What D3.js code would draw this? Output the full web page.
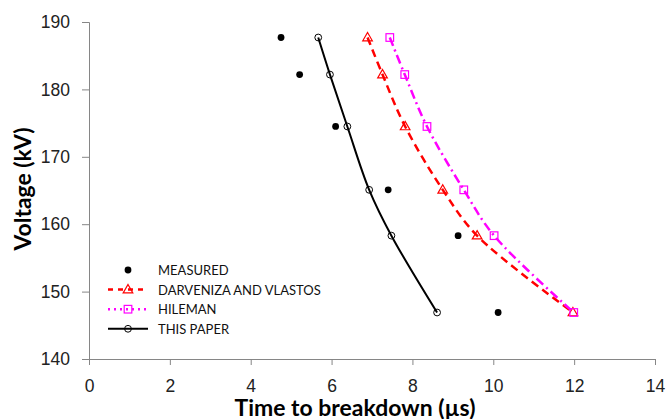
<!DOCTYPE html>
<html>
<head>
<meta charset="utf-8">
<script src="https://cdn.jsdelivr.net/npm/d3@7"></script>
<style>
body { margin: 0; background: #fff; }
svg { display: block; font-family: Lato, "Liberation Sans", sans-serif; }
</style>
</head>
<body>
<div id="chart"></div>
<script>
// values
const voltage = [187.7, 182.2, 174.5, 165.1, 158.3, 146.9];
const measured = [4.75, 5.21, 6.10, 7.40, 9.13, 10.12];
const darveniza = [6.89, 7.26, 7.82, 8.75, 9.60, 11.97];
const hileman = [7.44, 7.81, 8.36, 9.27, 10.02, 11.99];
const thisPaper = [5.67, 5.96, 6.39, 6.93, 7.48, 8.61];

const xTicks = [0, 2, 4, 6, 8, 10, 12, 14];
const yTicks = [140, 150, 160, 170, 180, 190];

const legendLabels = ["MEASURED", "DARVENIZA AND VLASTOS", "HILEMAN", "THIS PAPER"];

const W = 667, H = 419;
const margin = {top: 22, right: 12, bottom: 60, left: 89};
const width = W - margin.left - margin.right;
const height = H - margin.top - margin.bottom;

const svg = d3.select("#chart").append("svg")
	.attr("width", W).attr("height", H);

const g = svg.append("g")
	.attr("transform", "translate(" + margin.left + "," + margin.top + ")");

const x = d3.scaleLinear().domain([0, 14]).range([0, width]);
const y = d3.scaleLinear().domain([140, 190]).range([height, 0]);

// axes
const axisColor = "#868686";
const xAxis = g.append("g")
	.attr("transform", "translate(0," + height + ")")
	.call(d3.axisBottom(x).tickValues(xTicks).tickSize(6).tickPadding(15).tickFormat(d3.format("d")));
const yAxis = g.append("g")
	.call(d3.axisLeft(y).tickValues(yTicks).tickSize(7).tickPadding(12).tickFormat(d3.format("d")));

[xAxis, yAxis].forEach(a => {
	a.select(".domain").attr("stroke", axisColor);
	a.selectAll(".tick line").attr("stroke", axisColor);
	a.selectAll(".tick text").attr("fill", "#222").style("font-size", "17.5px");
});

// axis titles
svg.append("text")
	.attr("x", 355).attr("y", 416)
	.attr("text-anchor", "middle")
	.attr("textLength", 241).attr("lengthAdjust", "spacingAndGlyphs")
	.style("font-size", "22px").style("font-weight", "bold")
	.text("Time to breakdown (µs)");

svg.append("text")
	.attr("transform", "translate(31,189) rotate(-90)")
	.attr("text-anchor", "middle")
	.attr("textLength", 123).attr("lengthAdjust", "spacingAndGlyphs")
	.style("font-size", "22px").style("font-weight", "bold")
	.text("Voltage (kV)");

const series = [
	{key: "darveniza", xs: darveniza, color: "#ff0000", dash: "8,5", width: 2.5, marker: "triangle"},
	{key: "hileman", xs: hileman, color: "#ff00ff", dash: "9,4,2,4", width: 2.5, marker: "square"},
	{key: "thispaper", xs: thisPaper, color: "#000", dash: null, width: 2, marker: "circle"}
];

const line = d3.line()
	.x(d => x(d[0]))
	.y(d => y(d[1]))
	.curve(d3.curveCatmullRom.alpha(0.5));

function drawMarker(sel, type, color, cx, cy) {
	if (type === "triangle") {
		sel.append("path")
			.attr("d", d3.symbol(d3.symbolTriangle, 40)())
			.attr("transform", "translate(" + cx + "," + (cy + 0.5) + ")")
			.attr("fill", "none").attr("stroke", color).attr("stroke-width", 1.2);
	} else if (type === "square") {
		sel.append("rect")
			.attr("x", cx - 3.8).attr("y", cy - 3.8)
			.attr("width", 7.6).attr("height", 7.6)
			.attr("fill", "none").attr("stroke", color).attr("stroke-width", 1.2);
	} else if (type === "circle") {
		sel.append("circle")
			.attr("cx", cx).attr("cy", cy).attr("r", 3.4)
			.attr("fill", "none").attr("stroke", color).attr("stroke-width", 1);
	} else {
		sel.append("circle")
			.attr("cx", cx).attr("cy", cy).attr("r", 3.4)
			.attr("fill", color);
	}
}

series.forEach(s => {
	const pts = s.xs.map((v, i) => [v, voltage[i]]);
	g.append("path")
		.datum(pts)
		.attr("d", line)
		.attr("fill", "none")
		.attr("stroke", s.color)
		.attr("stroke-width", s.width)
		.attr("stroke-dasharray", s.dash);
	const mg = g.append("g").attr("class", s.key);
	pts.forEach(p => drawMarker(mg, s.marker, s.color, x(p[0]), y(p[1])));
});

// measured dots
const md = g.append("g").attr("class", "measured");
measured.forEach((v, i) => drawMarker(md, "dot", "#000", x(v), y(voltage[i])));

// legend
const legendStyles = [
	{color: "#000", dash: null, marker: "dot", line: false},
	{color: "#ff0000", dash: "5,5", marker: "triangle", line: true, width: 2.5},
	{color: "#ff00ff", dash: "2,4", marker: "square", line: true, width: 2.5},
	{color: "#000", dash: null, marker: "circle", line: true, width: 2}
];
const legend = svg.append("g");
legendLabels.forEach((label, i) => {
	const ly = 270 + i * 19.6;
	const st = legendStyles[i];
	if (st.line) {
		legend.append("line")
			.attr("x1", 108).attr("x2", 148)
			.attr("y1", ly).attr("y2", ly)
			.attr("stroke", st.color).attr("stroke-width", st.width)
			.attr("stroke-dasharray", st.dash);
	}
	drawMarker(legend, st.marker, st.color, 128, ly);
	legend.append("text")
		.attr("x", 158).attr("y", ly + 5)
		.style("font-size", "13px").attr("fill", "#111")
		.text(label);
});
</script>
</body>
</html>
